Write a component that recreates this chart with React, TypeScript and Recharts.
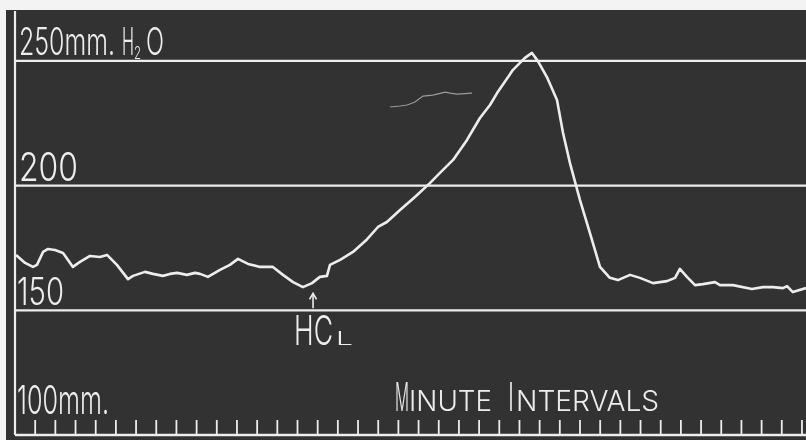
import React, { useLayoutEffect, useRef, useState } from 'react';
import { LineChart, Line, XAxis, YAxis, ReferenceLine, ReferenceDot } from 'recharts';

// minutes from left frame (tick marks at whole minutes), pressure in mm H2O
const minutes = [
  0.05, 0.5, 0.89, 1.09, 1.39, 1.64, 1.98, 2.38, 2.87, 3.22, 3.72, 4.21, 4.56, 5.05, 5.6, 5.85,
  6.44, 6.84, 7.33, 7.68, 8.03, 8.52, 8.92, 9.17, 9.56, 10.16, 10.65, 11.05, 11.55, 12.14, 12.78,
  13.28, 13.78, 14.27, 14.72, 15.11, 15.46, 15.61, 16.11, 16.75, 17.44, 17.99, 18.43, 19.08, 19.82,
  20.56, 21.06, 21.71, 22.4, 23.04, 23.54, 23.89, 24.68, 25.27, 25.62, 25.87, 26.02, 26.36, 26.86,
  27.16, 27.5, 28.0, 28.49, 28.99, 29.48, 29.88, 30.48, 30.97, 31.62, 32.31, 32.71, 32.95, 33.3,
  33.7, 34.09, 34.69, 34.94, 35.58, 36.52, 37.07, 37.56, 38.06, 38.26, 38.55, 39.2,
];
const pressure = [
  172.2, 169.0, 167.4, 168.2, 173.4, 174.6, 174.2, 173.0, 167.4, 169.4, 171.8, 171.4, 172.2, 168.2,
  162.5, 163.8, 165.4, 164.6, 163.8, 164.6, 165.0, 164.2, 165.0, 164.6, 163.4, 166.2, 168.2, 170.6,
  168.6, 167.4, 167.4, 164.2, 161.3, 159.3, 160.9, 163.4, 163.8, 168.2, 170.2, 173.4, 178.4, 183.4,
  185.4, 190.2, 195.4, 201.0, 205.1, 210.3, 218.3, 227.1, 232.3, 237.1, 246.4, 251.2, 253.2, 250.4,
  248.4, 243.5, 234.3, 221.1, 209.1, 194.2, 181.0, 167.4, 163.0, 162.1, 164.2, 163.0, 160.9, 161.7,
  163.0, 166.6, 163.4, 160.1, 160.5, 161.3, 160.1, 160.1, 158.5, 159.3, 159.3, 158.9, 159.7, 157.3,
  158.9,
];

// faint stray trace above the curve
const faintMinutes = [18.58, 19.08, 19.43, 19.82, 20.22, 20.71, 21.31, 21.56, 21.9, 22.65];
const faintPressure = [231.5, 231.9, 232.3, 233.5, 235.9, 236.3, 237.5, 237.1, 236.7, 237.1];

const gridLevels = [150, 200, 250];
const minuteTicks = Array.from({ length: 39 }, (_, i) => i + 1);
const hclMinute = 14.77;

const trace = minutes.map((t, i) => ({ t, v: pressure[i] }));
const faint = faintMinutes.map((t, i) => ({ t, v: faintPressure[i] }));

const INK = '#ededed';
const BG = '#323232';
const FONT = 'Inter, "Liberation Sans Narrow", sans-serif';

const Arrow = (p: any) => {
  const { cx, cy } = p;
  return (
    <g>
      <line x1={cx} y1={cy - 2} x2={cx} y2={cy - 16} stroke={INK} strokeWidth={1.6} />
      <path
        d={`M${cx - 3.5},${cy - 11} L${cx},${cy - 17} L${cx + 3.5},${cy - 11}`}
        fill="none"
        stroke={INK}
        strokeWidth={1.6}
      />
    </g>
  );
};

// text squeezed horizontally to a given width (condensed lettering)
const Fit = ({ x, y, w, size, children }: any) => {
  const ref = useRef<SVGTextElement>(null);
  const [s, setS] = useState(0.5);
  useLayoutEffect(() => {
    if (ref.current) {
      const n = ref.current.getComputedTextLength();
      if (n > 0) setS(w / n);
    }
  }, [w, size, children]);
  return (
    <text
      ref={ref}
      x={0}
      y={0}
      transform={`translate(${x},${y}) scale(${s},1)`}
      fill={INK}
      fontFamily={FONT}
      fontWeight={300}
      fontSize={size}
    >
      {children}
    </text>
  );
};

export default function App() {
  return (
    <div
      style={{
        position: 'absolute',
        left: 0,
        top: 0,
        width: 806,
        height: 440,
        background: '#f3f3f3',
        overflow: 'hidden',
      }}
    >
      <div
        style={{ position: 'absolute', left: 6, top: 10, width: 800, height: 430, background: BG }}
      />
      <div style={{ position: 'absolute', left: 0, top: 0 }}>
        <LineChart
          width={806}
          height={440}
          data={trace}
          margin={{ top: 11, right: 0, bottom: 5, left: 15 }}
        >
          <XAxis type="number" dataKey="t" domain={[0, 39.2]} hide allowDataOverflow />
          <YAxis type="number" domain={[100, 270]} hide allowDataOverflow />
          {gridLevels.map((g) => (
            <ReferenceLine key={g} y={g} stroke={INK} strokeWidth={2.2} />
          ))}
          <ReferenceLine y={100} stroke={INK} strokeWidth={2.4} />
          <ReferenceLine x={0} stroke={INK} strokeWidth={2.2} />
          {minuteTicks.map((m) => (
            <ReferenceLine
              key={'tk' + m}
              segment={[
                { x: m, y: 100 },
                { x: m, y: 106 },
              ]}
              stroke={INK}
              strokeWidth={1.8}
            />
          ))}
          <Line
            data={faint}
            dataKey="v"
            type="linear"
            stroke="#9a9a9a"
            strokeWidth={1.2}
            dot={false}
            isAnimationActive={false}
          />
          <Line
            dataKey="v"
            type="linear"
            stroke={INK}
            strokeWidth={2.6}
            strokeLinejoin="round"
            dot={false}
            isAnimationActive={false}
          />
          <ReferenceDot x={hclMinute} y={150} r={0} shape={Arrow} />
        </LineChart>
      </div>
      <svg
        width={806}
        height={440}
        style={{ position: 'absolute', left: 0, top: 0, pointerEvents: 'none', willChange: 'transform' }}
      >
        <Fit x={19} y={55} w={96} size={38}>250mm.</Fit>
        <Fit x={122} y={55} w={12} size={38}>H</Fit>
        <Fit x={134} y={59} w={7} size={17}>2</Fit>
        <Fit x={146} y={55} w={18} size={38}>O</Fit>
        <Fit x={19} y={181} w={59} size={39}>200</Fit>
        <Fit x={17} y={305} w={47} size={38}>150</Fit>
        <Fit x={17} y={414} w={92} size={40}>100mm.</Fit>
        <Fit x={294} y={345} w={39} size={41}>HC</Fit>
        <Fit x={336} y={345} w={17} size={18}>L</Fit>
        <Fit x={395} y={411} w={14} size={40}>M</Fit>
        <Fit x={409} y={411} w={83} size={29}>INUTE</Fit>
        <Fit x={508} y={411} w={6} size={40}>I</Fit>
        <Fit x={516} y={411} w={143} size={29}>NTERVALS</Fit>
      </svg>
    </div>
  );
}
